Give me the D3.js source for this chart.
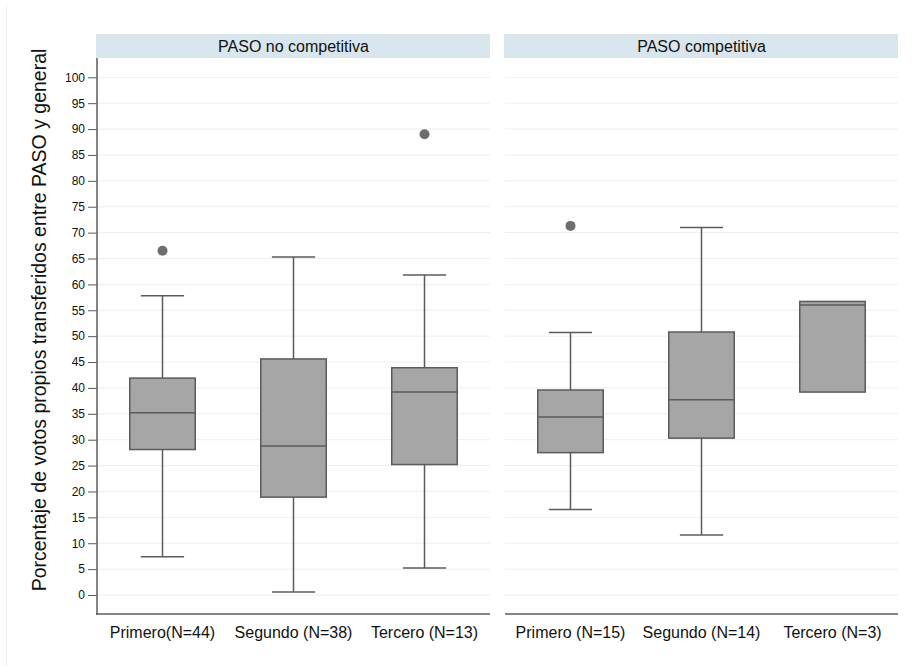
<!DOCTYPE html>
<html>
<head>
<meta charset="utf-8">
<script src="https://cdn.jsdelivr.net/npm/d3@7"></script>
<style>
  html, body { margin: 0; padding: 0; background: #fff; }
  svg { display: block; font-family: "Liberation Sans", Arial, sans-serif; }
</style>
</head>
<body>
<svg id="chart" width="922" height="671"></svg>
<script>
// ---- Data ----
const panels = ["PASO no competitiva", "PASO competitiva"];
const categoriesNoComp = ["Primero(N=44)", "Segundo (N=38)", "Tercero (N=13)"];
const categoriesComp = ["Primero (N=15)", "Segundo (N=14)", "Tercero (N=3)"];
// box statistics: lower whisker, q1, median, q3, upper whisker, outliers
const lowNoComp = [7.4, 0.6, 5.2];
const q1NoComp = [28.1, 18.9, 25.2];
const medNoComp = [35.2, 28.8, 39.2];
const q3NoComp = [41.9, 45.6, 43.9];
const highNoComp = [57.8, 65.3, 61.8];
const outliersNoComp = [[66.5], [], [89.0]];

const lowComp = [16.5, 11.6, 39.2];
const q1Comp = [27.5, 30.3, 39.2];
const medComp = [34.4, 37.7, 56.0];
const q3Comp = [39.6, 50.8, 56.7];
const highComp = [50.7, 71.0, 56.7];
const outliersComp = [[71.3], [], []];

const yTicks = d3.range(0, 101, 5);
const yTitle = "Porcentaje de votos propios transferidos entre PASO y general";

// ---- Layout ----
const svg = d3.select("#chart");
const yTop = 58, yBottom = 614;
const y = d3.scaleLinear().domain([0, 100]).range([595, 77.3]);

const panelX = [[97, 490], [505, 898]];
const panelData = [
  { cats: categoriesNoComp, low: lowNoComp, q1: q1NoComp, med: medNoComp, q3: q3NoComp, high: highNoComp, out: outliersNoComp },
  { cats: categoriesComp, low: lowComp, q1: q1Comp, med: medComp, q3: q3Comp, high: highComp, out: outliersComp }
];

const lineCol = "#5b5b5b", boxFill = "#a6a6a6", gridCol = "#e9f0f2", stripCol = "#d9e6ed", textCol = "#111";

// faint outer frame edge
svg.append("line").attr("x1", 6.5).attr("x2", 6.5).attr("y1", 5).attr("y2", 666)
  .attr("stroke", "#e6eef2").attr("stroke-width", 1);

panels.forEach((title, pi) => {
  const [x0, x1] = panelX[pi];
  const pd = panelData[pi];
  const g = svg.append("g");

  // strip
  g.append("rect").attr("x", x0 - 1).attr("y", 34).attr("width", x1 - x0 + 1).attr("height", yTop - 34)
    .attr("fill", stripCol);
  g.append("text").attr("x", (x0 + x1) / 2).attr("y", 46).attr("dy", "0.35em")
    .attr("text-anchor", "middle").attr("font-size", 16).attr("fill", textCol).text(title);

  // grid
  g.selectAll("line.grid").data(yTicks).join("line").attr("class", "grid")
    .attr("x1", x0).attr("x2", x1).attr("y1", d => y(d)).attr("y2", d => y(d))
    .attr("stroke", gridCol).attr("stroke-width", 1);

  // bottom axis line
  g.append("line").attr("x1", x0 - (pi === 0 ? 1 : 0)).attr("x2", x1).attr("y1", yBottom).attr("y2", yBottom)
    .attr("stroke", lineCol).attr("stroke-width", 1.5);

  const x = d3.scaleBand().domain(pd.cats).range([x0, x1]).padding(0);
  const bw = x.bandwidth() * 0.5, cw = x.bandwidth() * 0.33;

  pd.cats.forEach((c, i) => {
    const cx = x(c) + x.bandwidth() / 2;
    const bg = g.append("g");
    // whiskers
    bg.append("line").attr("x1", cx).attr("x2", cx).attr("y1", y(pd.high[i])).attr("y2", y(pd.q3[i]))
      .attr("stroke", lineCol).attr("stroke-width", 1.5);
    bg.append("line").attr("x1", cx).attr("x2", cx).attr("y1", y(pd.q1[i])).attr("y2", y(pd.low[i]))
      .attr("stroke", lineCol).attr("stroke-width", 1.5);
    if (pd.high[i] > pd.q3[i]) {
      bg.append("line").attr("x1", cx - cw / 2).attr("x2", cx + cw / 2).attr("y1", y(pd.high[i])).attr("y2", y(pd.high[i]))
        .attr("stroke", lineCol).attr("stroke-width", 1.5);
    }
    if (pd.low[i] < pd.q1[i]) {
      bg.append("line").attr("x1", cx - cw / 2).attr("x2", cx + cw / 2).attr("y1", y(pd.low[i])).attr("y2", y(pd.low[i]))
        .attr("stroke", lineCol).attr("stroke-width", 1.5);
    }
    // box
    bg.append("rect").attr("x", cx - bw / 2).attr("y", y(pd.q3[i])).attr("width", bw)
      .attr("height", y(pd.q1[i]) - y(pd.q3[i])).attr("fill", boxFill).attr("stroke", lineCol).attr("stroke-width", 1.5);
    bg.append("line").attr("x1", cx - bw / 2).attr("x2", cx + bw / 2).attr("y1", y(pd.med[i])).attr("y2", y(pd.med[i]))
      .attr("stroke", lineCol).attr("stroke-width", 1.5);
    // outliers
    bg.selectAll("circle").data(pd.out[i]).join("circle")
      .attr("cx", cx).attr("cy", d => y(d)).attr("r", 5).attr("fill", "#6e6e6e");
    // category label
    g.append("text").attr("x", cx).attr("y", 632).attr("dy", "0.35em").attr("text-anchor", "middle")
      .attr("font-size", 16).attr("fill", textCol).text(c);
  });

  if (pi === 0) {
    const ax = g.append("g").attr("transform", `translate(${x0},0)`)
      .call(d3.axisLeft(y).tickValues(yTicks).tickSize(9).tickPadding(3).tickFormat(d3.format("d")));
    ax.select(".domain").remove();
    ax.selectAll(".tick line").attr("stroke", lineCol).attr("stroke-width", 1);
    ax.selectAll(".tick text").attr("font-size", 12).attr("fill", textCol)
      .attr("font-family", "Liberation Sans, Arial, sans-serif");
    g.append("line").attr("x1", x0).attr("x2", x0).attr("y1", yTop).attr("y2", yBottom + 0.75)
      .attr("stroke", lineCol).attr("stroke-width", 1.5);
  }
});

// y title
svg.append("text").attr("transform", `translate(39,${(42 + 598) / 2}) rotate(-90)`)
  .attr("text-anchor", "middle").attr("dy", "0.35em").attr("font-size", 19.5).attr("fill", textCol)
  .text(yTitle);
</script>
</body>
</html>
